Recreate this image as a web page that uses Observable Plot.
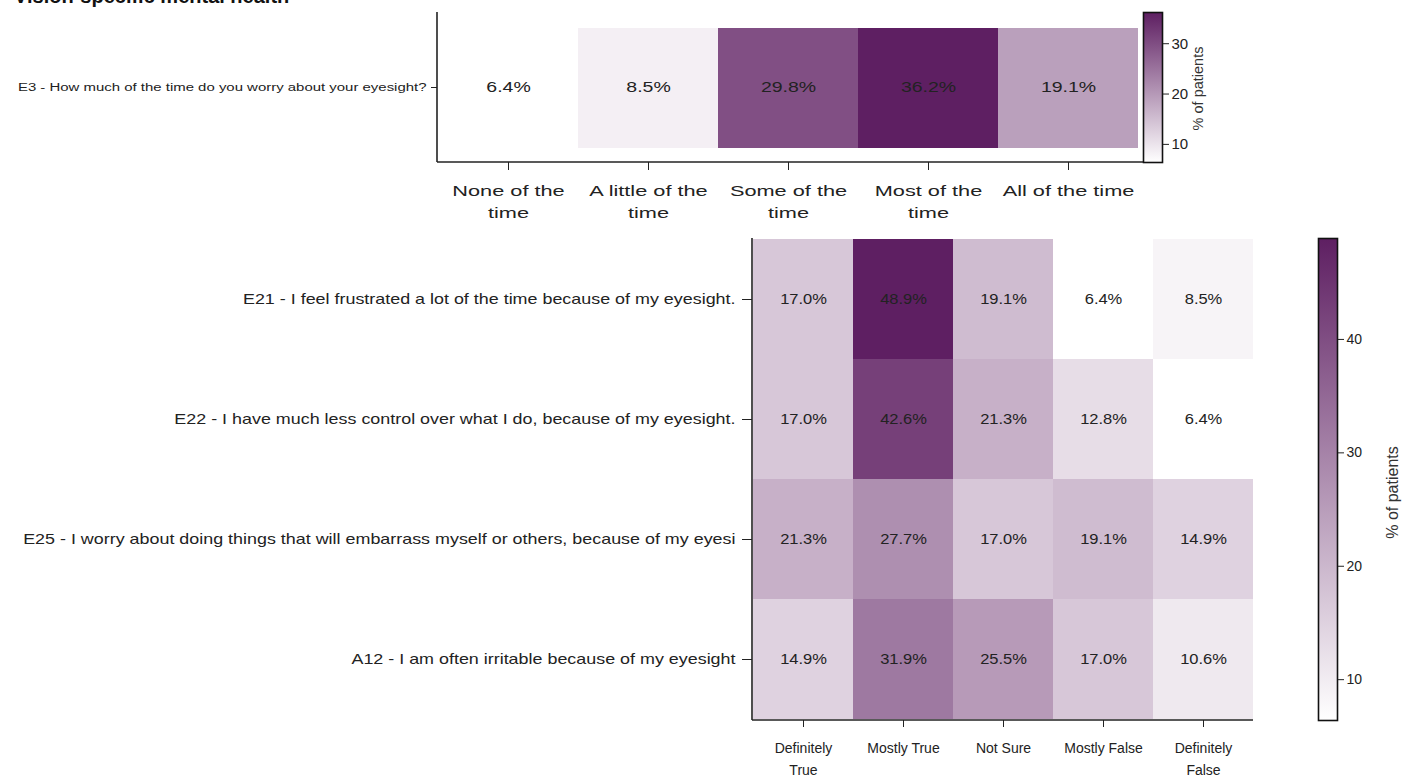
<!DOCTYPE html>
<html><head><meta charset="utf-8">
<script src="https://cdn.jsdelivr.net/npm/d3@7"></script>
<script src="https://cdn.jsdelivr.net/npm/@observablehq/plot@0.6"></script>
<style>
body{margin:0;background:#fff;font-family:"Liberation Sans",Arial,sans-serif;}
#wrap{position:relative;width:1411px;height:779px;overflow:hidden;background:#fff;}
#title{position:absolute;left:14px;top:-15px;font:bold 20px "Liberation Sans",Arial,sans-serif;color:#111;white-space:nowrap;}
.abs{position:absolute;}
</style></head><body>
<div id="wrap">
<div id="title">Vision-specific mental health</div>
<div id="top" class="abs" style="left:0;top:0"></div>
<div id="topbar" class="abs" style="left:1137px;top:0"></div>
<div id="bot" class="abs" style="left:0;top:228px"></div>
<div id="botbar" class="abs" style="left:1312px;top:228px"></div>
</div>
<script>
// ---- data ----
const topQuestions = ["E3 - How much of the time do you worry about your eyesight?"];
const topResponses = ["None of the\ntime", "A little of the\ntime", "Some of the\ntime", "Most of the\ntime", "All of the time"];
const topValues = [[6.4, 8.5, 29.8, 36.2, 19.1]];

const botQuestions = [
  "E21 - I feel frustrated a lot of the time because of my eyesight.",
  "E22 - I have much less control over what I do, because of my eyesight.",
  "E25 - I worry about doing things that will embarrass myself or others, because of my eyesi",
  "A12 - I am often irritable because of my eyesight"
];
const botResponses = ["Definitely\nTrue", "Mostly True", "Not Sure", "Mostly False", "Definitely\nFalse"];
const botValues = [
  [17.0, 48.9, 19.1, 6.4, 8.5],
  [17.0, 42.6, 21.3, 12.8, 6.4],
  [21.3, 27.7, 17.0, 19.1, 14.9],
  [14.9, 31.9, 25.5, 17.0, 10.6]
];
const topBarTicks = [10, 20, 30];
const botBarTicks = [10, 20, 30, 40];
const colorLabel = "% of patients";
const lowColor = "#ffffff";
const highColor = "#5e1f62";
const FONT = '"Liberation Sans", Arial, sans-serif';

function table(questions, responses, values) {
  const rows = [];
  questions.forEach((q, i) => responses.forEach((r, j) => rows.push({q, r, v: values[i][j]})));
  return rows;
}

// widen text horizontally around its anchor (the reference image is stretched)
function stretch(plot, label, k) {
  if (k === 1) return;
  d3.select(plot).selectAll(`g[aria-label="${label}"] text`).each(function() {
    const t = this.getAttribute("transform") || "";
    this.setAttribute("transform", t + ` scale(${k},1)`);
  });
}

function heatmap(o) {
  const data = table(o.questions, o.responses, o.values);
  const ext = d3.extent(data, d => d.v);
  const plot = Plot.plot({
    width: o.width, height: o.height,
    marginTop: o.mt, marginBottom: o.mb, marginLeft: o.ml, marginRight: o.mr,
    style: {background: "transparent", fontFamily: FONT, color: "#222", overflow: "visible"},
    x: {domain: o.responses, padding: 0, label: null},
    y: {domain: o.questions, padding: 0, label: null},
    color: {type: "linear", domain: ext, range: [lowColor, highColor], interpolate: "rgb"},
    marks: [
      Plot.cell(data, {x: "r", y: "q", fill: "v", insetTop: o.insetTop, insetBottom: o.insetBottom}),
      Plot.text(data, {x: "r", y: "q", text: d => d.v.toFixed(1) + "%", fill: "#222", fontSize: o.cellFont}),
      Plot.axisX({tickSize: o.xtick, tickPadding: o.xpad, fontSize: o.xFont, lineHeight: o.lh, label: null, stroke: "#222"}),
      Plot.axisY({tickSize: o.ytick, tickPadding: o.ypad, fontSize: o.yFont, label: null, stroke: "#222"})
    ]
  });
  const svg = d3.select(plot);
  const xr = plot.scale("x").range, yr = plot.scale("y").range;
  const y0 = Math.min(...yr), y1 = Math.max(...yr);
  svg.append("line").attr("x1", xr[0]).attr("x2", xr[1] + o.extend).attr("y1", y1).attr("y2", y1)
    .attr("stroke", "#222").attr("stroke-width", 1.6);
  svg.append("line").attr("x1", xr[0]).attr("x2", xr[0]).attr("y1", y0).attr("y2", y1)
    .attr("stroke", "#222").attr("stroke-width", 1.6);
  stretch(plot, "x-axis tick label", o.sx);
  stretch(plot, "y-axis tick label", o.sy);
  stretch(plot, "text", o.sc);
  return {plot, ext, color: plot.scale("color")};
}

function colorbar(o) {
  const plot = Plot.plot({
    width: o.width, height: o.height,
    marginTop: o.mt, marginBottom: o.mb, marginLeft: o.ml, marginRight: o.mr,
    style: {background: "transparent", fontFamily: FONT, color: "#222", overflow: "visible"},
    y: {domain: o.ext, label: null},
    marks: [
      Plot.frame({fill: `url(#${o.id})`, stroke: "#111", strokeWidth: 1.6}),
      Plot.axisY({anchor: "right", ticks: o.ticks, tickSize: 6, tickPadding: 3, fontSize: o.tickFont, label: null, stroke: "#222"}),
      Plot.text([colorLabel], {frameAnchor: "right", text: d => d, rotate: -90, textAnchor: "middle",
        dx: o.labelDx, dy: o.labelDy, fontSize: o.labelFont, fill: "#333"})
    ]
  });
  const svg = d3.select(plot);
  const g = svg.insert("defs", ":first-child").append("linearGradient")
    .attr("id", o.id).attr("x1", 0).attr("y1", 1).attr("x2", 0).attr("y2", 0);
  g.append("stop").attr("offset", 0).attr("stop-color", o.color.apply(o.ext[0]));
  g.append("stop").attr("offset", 1).attr("stop-color", o.color.apply(o.ext[1]));
  return plot;
}

// ---- top chart ----
const T = heatmap({
  questions: topQuestions, responses: topResponses, values: topValues,
  width: 1150, height: 230, mt: 12, mb: 68, ml: 437, mr: 12, extend: 5,
  insetTop: 16, insetBottom: 14, ytick: 6, ypad: 5, xtick: 8, xpad: 10, lh: 1.45,
  yFont: 11.5, xFont: 15, cellFont: 15, sx: 1.45, sy: 1.3, sc: 1.3
});
document.getElementById("top").appendChild(T.plot);
document.getElementById("topbar").appendChild(colorbar({
  id: "gradTop", ext: T.ext, color: T.color, ticks: topBarTicks,
  width: 110, height: 230, mt: 12, mb: 68, ml: 6, mr: 85,
  tickFont: 15, labelFont: 14.5, labelDx: 36, labelDy: 1
}));

// ---- bottom chart ----
const B = heatmap({
  questions: botQuestions, responses: botResponses, values: botValues,
  width: 1260, height: 551, mt: 10, mb: 59, ml: 752, mr: 7, extend: 0,
  insetTop: 0, insetBottom: 0, ytick: 10, ypad: 7, xtick: 7, xpad: 10, lh: 1.55,
  yFont: 14, xFont: 14, cellFont: 15, sx: 1, sy: 1.28, sc: 1.1
});
document.getElementById("bot").appendChild(B.plot);
document.getElementById("botbar").appendChild(colorbar({
  id: "gradBot", ext: B.ext, color: B.color, ticks: botBarTicks,
  width: 99, height: 551, mt: 10, mb: 59, ml: 6, mr: 74,
  tickFont: 14, labelFont: 16, labelDx: 55, labelDy: 13
}));
</script>
</body></html>
